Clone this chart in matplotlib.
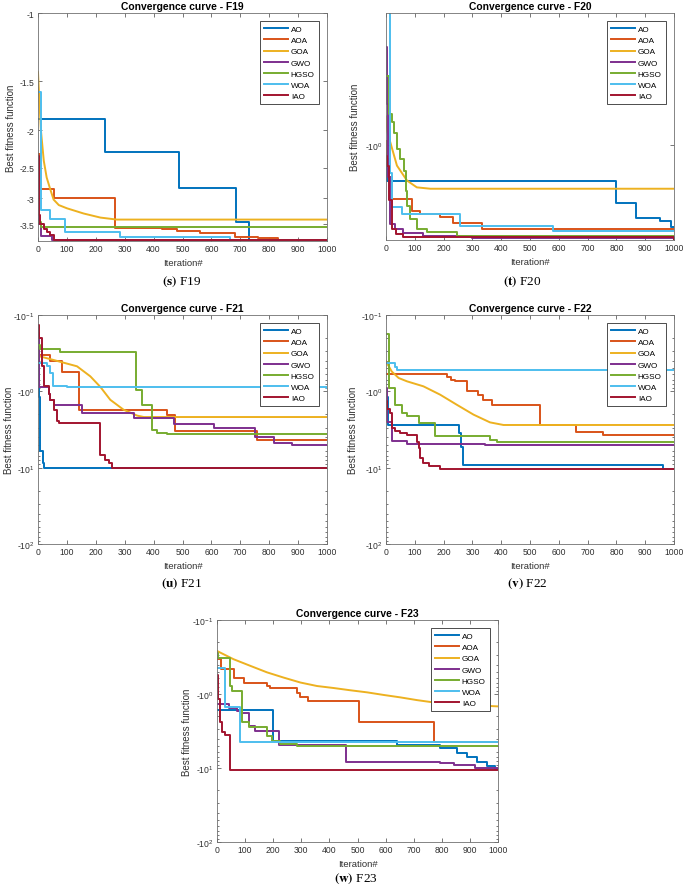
import numpy as np
import matplotlib
matplotlib.use('Agg')
import matplotlib.pyplot as plt
from matplotlib.ticker import FixedLocator, NullLocator

plt.rcParams['font.family'] = ['Liberation Sans', 'DejaVu Sans']
plt.rcParams['mathtext.fontset'] = 'stix'

names = ['AO', 'AOA', 'GOA', 'GWO', 'HGSO', 'WOA', 'IAO']
colors = ['#0072BD', '#D95319', '#EDB120', '#7E2F8E', '#77AC30', '#4DBEEE', '#A2142F']
smooth = ['GOA']  # drawn as a plain line, the rest as stairs

# best fitness per algorithm: (iteration, value) breakpoints
f19 = {
    'AO':   ([0, 231, 487, 685, 729, 1000], [-1.87, -2.28, -2.82, -3.44, -3.83, -3.83]),
    'AOA':  ([0, 8, 54, 268, 430, 480, 560, 680, 760, 830, 1000],
             [-2.3, -2.84, -3.0, -3.58, -3.60, -3.63, -3.68, -3.76, -3.80, -3.83, -3.83]),
    'GOA':  ([0, 5, 10, 20, 30, 43, 54, 72, 100, 158, 216, 273, 1000],
             [-1.42, -1.7, -2.0, -2.4, -2.65, -2.85, -3.02, -3.12, -3.18, -3.28, -3.36, -3.40, -3.40]),
    'GWO':  ([0, 3, 10, 50, 1000], [-3.3, -3.5, -3.75, -3.84, -3.84]),
    'HGSO': ([0, 10, 1000], [-3.45, -3.55, -3.55]),
    'WOA':  ([0, 10, 43, 95, 285, 666, 1000], [-1.6, -3.21, -3.39, -3.67, -3.76, -3.83, -3.83]),
    'IAO':  ([0, 3, 8, 20, 31, 43, 54, 1000], [-2.33, -3.3, -3.5, -3.6, -3.65, -3.72, -3.84, -3.84]),
}
f20 = {
    'AO':   ([0, 3, 798, 867, 950, 991, 1000], [-1.15, -1.586, -2.08, -2.53, -2.62, -2.81, -2.81]),
    'AOA':  ([0, 5, 10, 20, 90, 119, 188, 234, 333, 1000],
             [-0.95, -1.2, -1.5, -1.98, -2.30, -2.39, -2.47, -2.68, -2.89, -2.89]),
    'GOA':  ([0, 5, 15, 38, 73, 107, 154, 1000], [-0.7, -0.85, -0.97, -1.30, -1.57, -1.71, -1.74, -1.74]),
    'GWO':  ([0, 3, 8, 15, 30, 60, 130, 300, 1000], [-0.29, -0.6, -1.5, -2.7, -2.9, -3.05, -3.15, -3.25, -3.31]),
    'HGSO': ([0, 10, 20, 27, 38, 50, 61, 68, 73, 84, 107, 142, 246, 1000],
             [-0.42, -0.68, -0.75, -0.86, -1.06, -1.2, -1.4, -1.8, -2.16, -2.55, -2.89, -3.02, -3.15, -3.25]),
    'WOA':  ([0, 15, 21, 55, 258, 581, 1000], [-0.185, -1.42, -2.2, -2.39, -2.77, -2.98, -2.98]),
    'IAO':  ([0, 5, 10, 20, 35, 60, 1000], [-1.15, -1.3, -2.0, -2.9, -3.08, -3.2, -3.27]),
}
f21 = {
    'AO':   ([0, 3, 6, 17, 22, 1000], [-0.3, -1.2, -6.1, -8.7, -10.15, -10.15]),
    'AOA':  ([0, 5, 43, 83, 143, 446, 473, 758, 1000], [-0.2, -0.33, -0.40, -0.56, -1.74, -2.02, -3.34, -4.30, -4.30]),
    'GOA':  ([0, 6, 50, 135, 181, 216, 250, 296, 343, 366, 1000],
             [-0.3, -0.348, -0.385, -0.47, -0.636, -0.877, -1.29, -1.74, -2.08, -2.17, -2.17]),
    'GWO':  ([0, 5, 37, 43, 54, 152, 331, 469, 608, 752, 815, 879, 1000],
             [-0.17, -0.88, -1.1, -1.3, -1.5, -1.92, -2.24, -2.65, -3.02, -4.0, -4.74, -5.1, -5.1]),
    'HGSO': ([0, 6, 77, 340, 360, 394, 412, 446, 1000], [-0.25, -0.279, -0.308, -0.97, -1.50, -3.18, -3.52, -3.62, -3.62]),
    'WOA':  ([0, 31, 43, 52, 100, 1000], [-0.42, -0.47, -0.575, -0.84, -0.877, -0.9]),
    'IAO':  ([0, 5, 14, 20, 37, 43, 54, 66, 72, 213, 233, 245, 256, 1000],
             [-0.134, -0.2, -0.47, -0.86, -1.1, -1.29, -1.74, -2.47, -2.60, -6.77, -7.86, -8.69, -10.1, -10.1]),
}
f22 = {
    'AO':   ([0, 8, 255, 262, 269, 962, 1000], [-1.2, -2.73, -3.5, -5.3, -9.3, -10.4, -10.4]),
    'AOA':  ([0, 211, 225, 240, 281, 321, 338, 367, 535, 658, 754, 1000],
             [-0.587, -0.649, -0.703, -0.74, -1.0, -1.106, -1.29, -1.53, -2.73, -3.45, -3.77, -3.77]),
    'GOA':  ([0, 3, 20, 44, 73, 130, 188, 246, 304, 361, 408, 1000],
             [-0.4, -0.425, -0.55, -0.669, -0.74, -0.86, -1.106, -1.50, -2.02, -2.55, -2.76, -2.76]),
    'GWO':  ([0, 5, 21, 73, 344, 1000], [-0.9, -2.5, -4.52, -4.9, -5.1, -5.1]),
    'HGSO': ([0, 9, 32, 55, 73, 113, 171, 361, 385, 1000], [-0.18, -0.9, -1.5, -1.92, -2.13, -2.6, -3.89, -4.3, -4.66, -4.66]),
    'WOA':  ([0, 32, 38, 1000], [-0.425, -0.48, -0.53, -0.53]),
    'IAO':  ([0, 5, 15, 21, 32, 50, 73, 107, 113, 119, 130, 148, 188, 1000],
             [-1.35, -1.7, -1.92, -3.02, -3.34, -3.52, -3.70, -4.6, -5.53, -7.48, -8.69, -9.6, -10.4, -10.4]),
}
f23 = {
    'AO':   ([0, 199, 641, 795, 854, 890, 925, 961, 990, 1000], [-1.63, -4.27, -4.83, -5.41, -6.25, -7.15, -8.18, -9.27, -10.3, -10.3]),
    'AOA':  ([0, 14, 59, 97, 178, 190, 285, 297, 323, 504, 771, 1000],
             [-0.339, -0.462, -0.6, -0.70, -0.77, -0.83, -0.97, -1.11, -1.26, -2.36, -4.49, -4.49]),
    'GOA':  ([0, 59, 119, 178, 237, 297, 356, 415, 474, 534, 593, 652, 712, 771, 830, 890, 949, 1000],
             [-0.262, -0.339, -0.417, -0.51, -0.60, -0.70, -0.78, -0.83, -0.89, -0.95, -1.03, -1.11, -1.21, -1.30, -1.37, -1.41, -1.44, -1.47]),
    'GWO':  ([0, 42, 71, 83, 113, 136, 219, 459, 795, 842, 919, 1000],
             [-1.37, -1.57, -1.69, -1.78, -2.68, -3.12, -4.84, -8.18, -8.64, -9.07, -9.86, -9.86]),
    'HGSO': ([0, 5, 45, 53, 89, 113, 178, 196, 225, 285, 1000],
             [-0.28, -0.322, -0.77, -0.90, -2.42, -2.76, -3.66, -4.27, -4.74, -5.1, -5.1]),
    'WOA':  ([0, 30, 81, 1000], [-0.44, -1.51, -4.41, -4.41]),
    'IAO':  ([0, 3, 9, 18, 30, 45, 1000], [-0.55, -1.17, -2.4, -3.3, -3.53, -10.53, -10.53]),
}

dec_ticks = [-100, -10, -1, -0.1]
dec_labels = [r'-$\mathregular{10^{2}}$', r'-$\mathregular{10^{1}}$', r'-$\mathregular{10^{0}}$', r'-$\mathregular{10^{-1}}$']
dec_minor = [-m * 10.0 ** e for e in (-1, 0, 1) for m in range(2, 10)]


# log axis of negative numbers: -1 at 0, more negative goes down
def fwd(y):
    y = np.asarray(y, dtype=float)
    return -np.log10(np.maximum(-y, 1e-12))


def inv(u):
    return -np.power(10.0, -np.asarray(u, dtype=float))


fig = plt.figure(figsize=(6.85, 8.87), dpi=100)
W, H = 685.0, 887.0


def panel(box, data, title, ylim, yticks, ylabels, minor, cap, cap_xy, ylab_x):
    l, t, r, b = box
    ax = fig.add_axes([l / W, 1 - b / H, (r - l) / W, (b - t) / H])
    ax.set_yscale('function', functions=(fwd, inv))
    for name, col in zip(names, colors):
        x, y = data[name]
        if name in smooth:
            ax.plot(x, y, color=col, lw=1.4, label=name)
        else:
            ax.step(x, y, where='post', color=col, lw=1.4, label=name)
    ax.set_xlim(0, 1000)
    ax.set_ylim(ylim)
    ax.set_xticks(range(0, 1001, 100))
    ax.set_yticks(yticks)
    ax.set_yticklabels(ylabels)
    ax.yaxis.set_minor_locator(FixedLocator(minor) if minor else NullLocator())
    ax.xaxis.set_minor_locator(NullLocator())
    ax.tick_params(which='both', direction='in', top=True, right=True, labelsize=6.2,
                   color='#404040', labelcolor='#303030', width=0.5, length=3, pad=2.5)
    ax.tick_params(which='minor', length=1.6)
    for s in ax.spines.values():
        s.set_color('#707070')
        s.set_linewidth(0.6)
    ax.set_title(title, fontsize=7.4, fontweight='bold', pad=3)
    ax.set_xlabel('Iteration#', fontsize=6.8, color='#303030', labelpad=3)
    ax.set_ylabel('Best fitness function', fontsize=7, color='#303030')
    # label's right edge sits at this pixel column
    ax.yaxis.set_label_coords((ylab_x - l) / (r - l), 0.5)
    leg = ax.legend(loc='upper right', fontsize=5.9, handlelength=3.0, handletextpad=0.3,
                    labelspacing=0.42, borderpad=0.5, borderaxespad=1.0,
                    fancybox=False, edgecolor='#303030', framealpha=1)
    leg.get_frame().set_linewidth(0.6)
    fig.text(cap_xy[0] / W, 1 - cap_xy[1] / H, cap, ha='center', va='center',
             fontsize=9.5, family='Liberation Serif')
    return ax


panel((38, 14, 327, 242), f19, 'Convergence curve - F19', (-3.86, -1),
      [-3.5, -3, -2.5, -2, -1.5, -1], ['-3.5', '-3', '-2.5', '-2', '-1.5', '-1'], None,
      r'$\mathbf{(s)}$ F19', (182, 282), 16)
panel((386, 14, 674, 241), f20, 'Convergence curve - F20', (-3.32, -0.19),
      [-1], [r'-$\mathregular{10^{0}}$'], None,
      r'$\mathbf{(t)}$ F20', (522, 282), 360)
panel((38, 316, 327, 545), f21, 'Convergence curve - F21', (-100, -0.1),
      dec_ticks, dec_labels, dec_minor, r'$\mathbf{(u)}$ F21', (182, 584), 14)
panel((386, 316, 674, 545), f22, 'Convergence curve - F22', (-100, -0.1),
      dec_ticks, dec_labels, dec_minor, r'$\mathbf{(v)}$ F22', (527, 584), 358)
panel((217, 621, 498, 843), f23, 'Convergence curve - F23', (-100, -0.1),
      dec_ticks, dec_labels, dec_minor, r'$\mathbf{(w)}$ F23', (356, 879), 192)

fig.savefig('out.png', dpi=100)
